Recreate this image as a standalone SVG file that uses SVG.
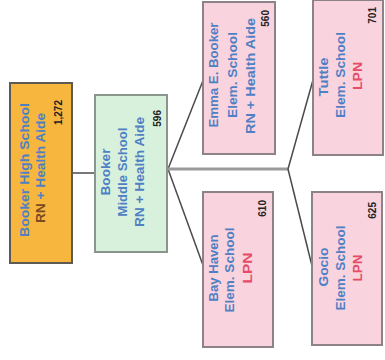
<svg xmlns="http://www.w3.org/2000/svg" width="385" height="360" viewBox="0 0 385 360">
<style>
text{font-family:"Liberation Sans",Arial,sans-serif;font-weight:bold;font-size:12px}
.b{fill:#4f80c4}
.r{fill:#e64b68}
.n{fill:#222;font-size:10px;text-anchor:end}
.m{text-anchor:middle}
.org{fill:#f7b63e;stroke:#5e5a52;stroke-width:2}
.grn{fill:#d8f1dc;stroke:#8a958b;stroke-width:2}
.pnk{fill:#f9d3de;stroke:#8c8287;stroke-width:2}
.ln{stroke:#4a4a4a;stroke-width:1.5;fill:none}
</style>
<rect width="385" height="360" fill="#ffffff"/>
<g id="connectors">
<line class="ln" x1="72" y1="173" x2="95" y2="173"/>
<line class="ln" x1="168" y1="169" x2="204" y2="78"/>
<line class="ln" x1="168" y1="169" x2="204" y2="268"/>
<line x1="168" y1="169" x2="288" y2="169" stroke="#9a9a9a" stroke-width="3"/>
<line class="ln" x1="288" y1="169" x2="313" y2="80"/>
<line class="ln" x1="288" y1="169" x2="313" y2="270"/>
</g>
<g id="booker-high">
<rect class="org" x="10" y="83" width="62" height="180"/>
<text class="b m" transform="translate(28.5,170) rotate(-90)" textLength="134" lengthAdjust="spacingAndGlyphs">Booker High School</text>
<text class="b m" transform="translate(44.5,168) rotate(-90)" textLength="110" lengthAdjust="spacingAndGlyphs"><tspan fill="#7a4a20">RN</tspan> + Health Aide</text>
<text class="n" transform="translate(62,100) rotate(-90)">1,272</text>
</g>
<g id="booker-middle">
<rect class="grn" x="95" y="95" width="72" height="157"/>
<text class="b m" transform="translate(109.5,172) rotate(-90)" textLength="47" lengthAdjust="spacingAndGlyphs">Booker</text>
<text class="b m" transform="translate(126.5,172) rotate(-90)" textLength="89" lengthAdjust="spacingAndGlyphs">Middle School</text>
<text class="b m" transform="translate(143.5,172) rotate(-90)" textLength="110" lengthAdjust="spacingAndGlyphs">RN + Health Aide</text>
<text class="n" transform="translate(160.5,110) rotate(-90)">596</text>
</g>
<g id="emma-booker">
<rect class="pnk" x="203" y="2" width="72" height="152"/>
<text class="b m" transform="translate(217.5,75) rotate(-90)" textLength="105" lengthAdjust="spacingAndGlyphs">Emma E. Booker</text>
<text class="b m" transform="translate(236.5,75) rotate(-90)" textLength="86" lengthAdjust="spacingAndGlyphs">Elem. School</text>
<text class="b m" transform="translate(254.5,76) rotate(-90)" textLength="116" lengthAdjust="spacingAndGlyphs">RN + Health Aide</text>
<text class="n" transform="translate(268.5,10) rotate(-90)">560</text>
</g>
<g id="bay-haven">
<rect class="pnk" x="203" y="192" width="70" height="155"/>
<text class="b m" transform="translate(217.5,268) rotate(-90)" textLength="67" lengthAdjust="spacingAndGlyphs">Bay Haven</text>
<text class="b m" transform="translate(233.5,270) rotate(-90)" textLength="85" lengthAdjust="spacingAndGlyphs">Elem. School</text>
<text class="r m" transform="translate(251.5,268) rotate(-90)" textLength="31" lengthAdjust="spacingAndGlyphs">LPN</text>
<text class="n" transform="translate(265.5,200) rotate(-90)">610</text>
</g>
<g id="tuttle">
<rect class="pnk" x="313" y="0" width="70" height="155"/>
<text class="b m" transform="translate(327.5,77) rotate(-90)" textLength="39" lengthAdjust="spacingAndGlyphs">Tuttle</text>
<text class="b m" transform="translate(344.5,75) rotate(-90)" textLength="86" lengthAdjust="spacingAndGlyphs">Elem. School</text>
<text class="r m" transform="translate(361.5,76) rotate(-90)" textLength="28" lengthAdjust="spacingAndGlyphs">LPN</text>
<text class="n" transform="translate(375.5,7) rotate(-90)">701</text>
</g>
<g id="gocio">
<rect class="pnk" x="312" y="192" width="70" height="153"/>
<text class="b m" transform="translate(327.5,267) rotate(-90)" textLength="39" lengthAdjust="spacingAndGlyphs">Gocio</text>
<text class="b m" transform="translate(344.5,268) rotate(-90)" textLength="85" lengthAdjust="spacingAndGlyphs">Elem. School</text>
<text class="r m" transform="translate(361.5,268) rotate(-90)" textLength="27" lengthAdjust="spacingAndGlyphs">LPN</text>
<text class="n" transform="translate(375.5,202) rotate(-90)">625</text>
</g>
</svg>
